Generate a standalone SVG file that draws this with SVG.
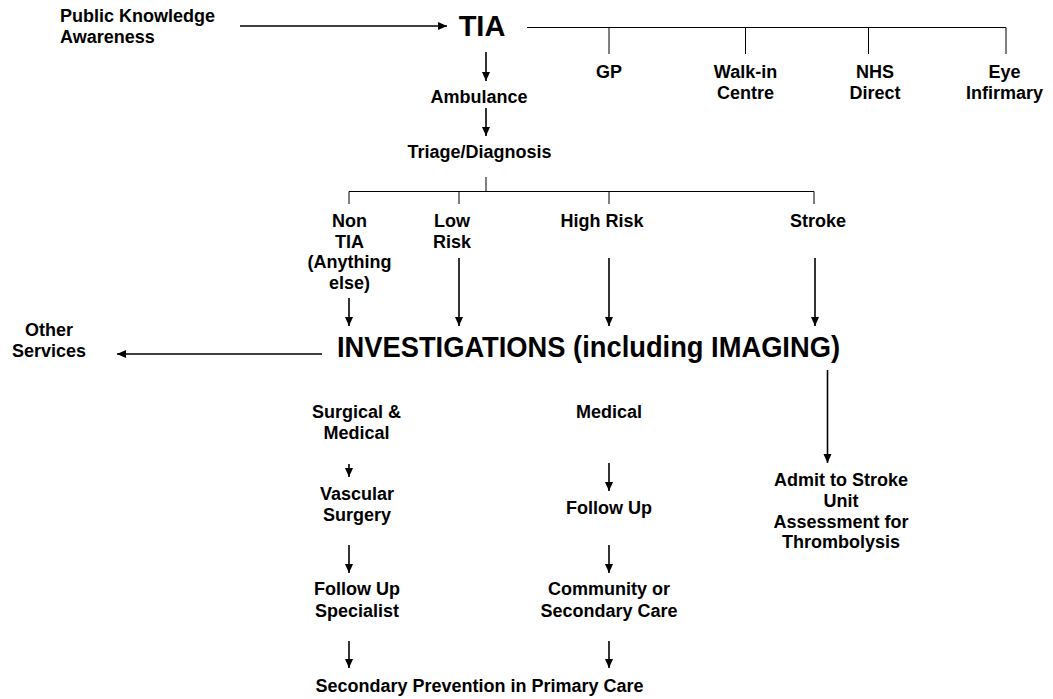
<svg xmlns="http://www.w3.org/2000/svg" width="1053" height="699" viewBox="0 0 1053 699">
<defs>
<marker id="ah" markerUnits="userSpaceOnUse" markerWidth="10" markerHeight="10" refX="9" refY="4" orient="auto">
<path d="M0,0 L9,4 L0,8 z" fill="#000"/>
</marker>
<style>
text{font-family:"Liberation Sans",Arial,Helvetica,sans-serif;font-weight:bold;font-size:18px;fill:#000;text-anchor:middle}
.big{font-size:29px}
.arr{stroke:#000;stroke-width:1.6;fill:none;marker-end:url(#ah)}
.br{stroke:#000;stroke-width:1;fill:none}
</style>
</defs>
<rect width="1053" height="699" fill="#fff"/>
<g id="connectors">
<line class="arr" x1="240" y1="26" x2="447" y2="26"/>
<path class="br" d="M527,27.5 H1006 M609,27.5 V54 M745.5,27.5 V54 M868.5,27.5 V54 M1006,27.5 V54"/>
<line class="arr" x1="486" y1="52" x2="486" y2="81"/>
<line class="arr" x1="486" y1="108" x2="486" y2="136"/>
<path class="br" d="M486,177 V191.5 M349,191.5 H814 M349,191.5 V204 M459,191.5 V204 M609,191.5 V204 M814,191.5 V204"/>
<line class="arr" x1="349" y1="298" x2="349" y2="326"/>
<line class="arr" x1="459" y1="258" x2="459" y2="326"/>
<line class="arr" x1="609" y1="258" x2="609" y2="326"/>
<line class="arr" x1="815" y1="258" x2="815" y2="326"/>
<line class="arr" x1="322" y1="354" x2="117" y2="354"/>
<line class="arr" x1="827.5" y1="370" x2="827.5" y2="463"/>
<line class="arr" x1="349" y1="464" x2="349" y2="477"/>
<line class="arr" x1="609" y1="463" x2="609" y2="491"/>
<line class="arr" x1="349" y1="545" x2="349" y2="573"/>
<line class="arr" x1="609" y1="545" x2="609" y2="573"/>
<line class="arr" x1="349" y1="641" x2="349" y2="668"/>
<line class="arr" x1="609" y1="641" x2="609" y2="668"/>
</g>
<g id="public"><text x="60" y="22" style="text-anchor:start">Public Knowledge</text><text x="60" y="43" style="text-anchor:start">Awareness</text></g>
<g id="tia"><text class="big" x="482" y="35.5">TIA</text></g>
<g id="gp"><text x="609" y="77.5">GP</text></g>
<g id="walkin"><text x="745.5" y="77.5">Walk-in</text><text x="745.5" y="98.5">Centre</text></g>
<g id="nhs"><text x="875" y="77.5">NHS</text><text x="875" y="98.5">Direct</text></g>
<g id="eye"><text x="1004.5" y="77.5">Eye</text><text x="1004.5" y="98.5">Infirmary</text></g>
<g id="ambulance"><text x="479" y="103">Ambulance</text></g>
<g id="triage"><text x="479.5" y="158">Triage/Diagnosis</text></g>
<g id="nontia"><text x="349.5" y="227">Non</text><text x="349.5" y="247.5">TIA</text><text x="349.5" y="268">(Anything</text><text x="349.5" y="288.5">else)</text></g>
<g id="lowrisk"><text x="452" y="227">Low</text><text x="452" y="247.5">Risk</text></g>
<g id="highrisk"><text x="602" y="227">High Risk</text></g>
<g id="stroke"><text x="818" y="227">Stroke</text></g>
<g id="investigations"><text class="big" x="337" y="357" style="text-anchor:start" textLength="503" lengthAdjust="spacingAndGlyphs">INVESTIGATIONS (including IMAGING)</text></g>
<g id="other"><text x="49" y="336">Other</text><text x="49" y="357">Services</text></g>
<g id="admit"><text x="841" y="486">Admit to Stroke</text><text x="841" y="507">Unit</text><text x="841" y="527.5">Assessment for</text><text x="841" y="548">Thrombolysis</text></g>
<g id="surgmed"><text x="356.5" y="418">Surgical &amp;</text><text x="356.5" y="438.5">Medical</text></g>
<g id="medical"><text x="609" y="418">Medical</text></g>
<g id="vascular"><text x="357" y="500">Vascular</text><text x="357" y="520.5">Surgery</text></g>
<g id="followup"><text x="609" y="514">Follow Up</text></g>
<g id="followspec"><text x="357" y="595">Follow Up</text><text x="357" y="616.5">Specialist</text></g>
<g id="community"><text x="609" y="595">Community or</text><text x="609" y="616.5">Secondary Care</text></g>
<g id="secondary"><text x="479.5" y="692">Secondary Prevention in Primary Care</text></g>
</svg>
